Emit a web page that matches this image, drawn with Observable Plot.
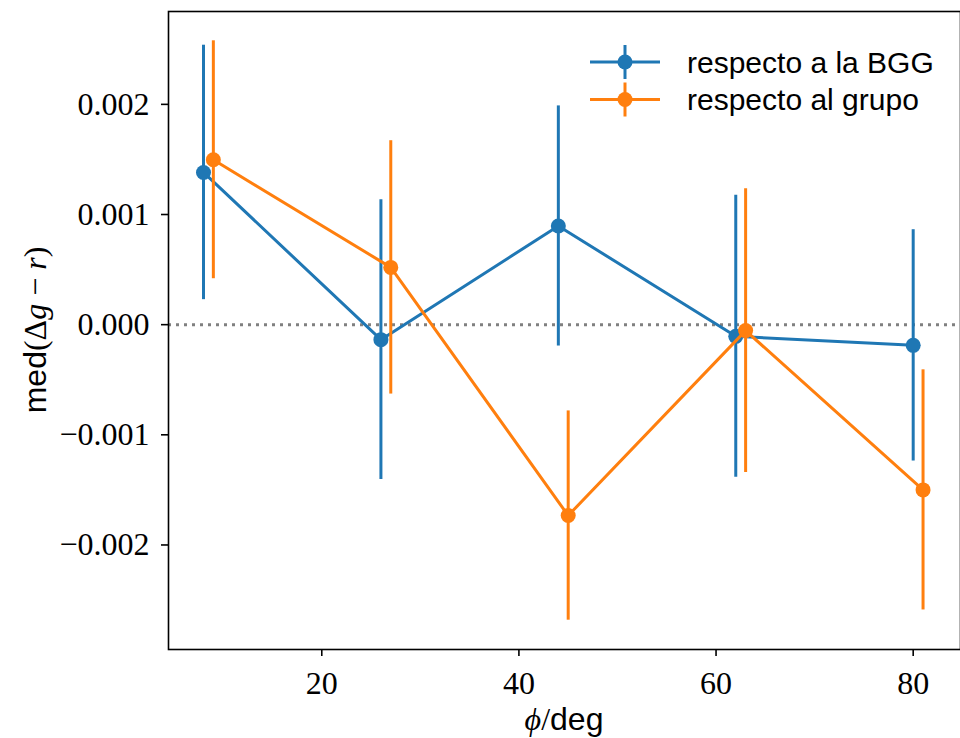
<!DOCTYPE html>
<html>
<head>
<meta charset="utf-8">
<script src="https://cdn.jsdelivr.net/npm/d3@7"></script>
<script src="https://cdn.jsdelivr.net/npm/@observablehq/plot@0.6"></script>
<style>
  html, body { margin: 0; padding: 0; background: #fff; }
  #chart svg { display: block; }
</style>
</head>
<body>
<div id="chart"></div>
<script>
const seriesNames = ["respecto a la BGG", "respecto al grupo"];
const seriesColors = ["#1f77b4", "#ff7f0e"];
const phiBGG = [8, 26, 44, 62, 80];
const medBGG = [0.001382, -0.000136, 0.000896, -0.000106, -0.000188];
const errBGG = [0.001155, 0.00127, 0.00109, 0.00128, 0.00105];
const phiGrupo = [9, 27, 45, 63, 81];
const medGrupo = [0.001497, 0.00052, -0.001733, -0.000054, -0.0015];
const errGrupo = [0.00108, 0.00115, 0.00095, 0.001288, 0.00109];
const xTicks = [20, 40, 60, 80];
const yTicks = [-0.002, -0.001, 0, 0.001, 0.002];

const rows = [
  ...phiBGG.map((p, i) => ({series: seriesNames[0], phi: p, med: medBGG[i], err: errBGG[i]})),
  ...phiGrupo.map((p, i) => ({series: seriesNames[1], phi: p, med: medGrupo[i], err: errGrupo[i]}))
];

const W = 960, H = 738, mL = 168, mT = 11, mB = 89, mR = 0;
const serif = "'Liberation Serif', 'DejaVu Serif', serif";
const sans = "'Liberation Sans', 'DejaVu Sans', sans-serif";

const marks = [
  Plot.ruleY([0], {stroke: "#808080", strokeWidth: 3, strokeDasharray: "3,5"})
];
for (let s = 0; s < seriesNames.length; s++) {
  const d = rows.filter(r => r.series === seriesNames[s]);
  marks.push(
    Plot.ruleX(d, {x: "phi", y1: r => r.med - r.err, y2: r => r.med + r.err, stroke: seriesColors[s], strokeWidth: 3}),
    Plot.line(d, {x: "phi", y: "med", stroke: seriesColors[s], strokeWidth: 3}),
    Plot.dot(d, {x: "phi", y: "med", fill: seriesColors[s], r: 7.5, stroke: "none"})
  );
}
marks.push(
  Plot.axisX({ticks: xTicks, tickSize: 7, tickPadding: 15, tickFormat: d3.format("d"), label: null,
    fontSize: 32, fontFamily: serif, strokeWidth: 1.6}),
  Plot.axisY({ticks: yTicks, tickSize: 7, tickPadding: 12, tickFormat: d3.format(".3f"), label: null,
    fontSize: 32, fontFamily: serif, strokeWidth: 1.6}),
  Plot.frame({stroke: "#000", strokeWidth: 1.6})
);

const svg = Plot.plot({
  width: W, height: H,
  marginLeft: mL, marginTop: mT, marginBottom: mB, marginRight: mR,
  x: {domain: [4.45, 84.8]},
  y: {domain: [-0.002949, 0.002843]},
  style: {background: "#fff", color: "#000", overflow: "visible"},
  marks
});

const root = d3.select(svg);
const fs = 32;

// x label: ϕ/deg
const xl = root.append("text")
  .attr("x", (mL + W - mR) / 2).attr("y", 730)
  .attr("text-anchor", "middle").attr("font-size", fs).attr("fill", "#000");
xl.append("tspan").attr("font-family", serif).attr("font-style", "italic").text("ϕ");
xl.append("tspan").attr("font-family", serif).text("/");
xl.append("tspan").attr("font-family", sans).text("deg");

// y label: med(Δg − r)
const yl = root.append("text")
  .attr("transform", `translate(46,${(mT + H - mB) / 2}) rotate(-90)`)
  .attr("text-anchor", "middle").attr("font-size", fs).attr("fill", "#000");
yl.append("tspan").attr("font-family", sans).text("med");
yl.append("tspan").attr("font-family", serif).text("(Δ");
yl.append("tspan").attr("font-family", serif).attr("font-style", "italic").text("g");
yl.append("tspan").attr("font-family", serif).text(" − ");
yl.append("tspan").attr("font-family", serif).attr("font-style", "italic").text("r");
yl.append("tspan").attr("font-family", serif).text(")");

// legend
const lg = root.append("g").attr("class", "legend");
seriesNames.forEach((name, i) => {
  const cy = 62 + i * 37.5;
  const g = lg.append("g").attr("transform", `translate(0,${cy})`);
  g.append("line").attr("x1", 590).attr("x2", 660).attr("y1", 0).attr("y2", 0)
    .attr("stroke", seriesColors[i]).attr("stroke-width", 3);
  g.append("line").attr("x1", 625).attr("x2", 625).attr("y1", -17).attr("y2", 17)
    .attr("stroke", seriesColors[i]).attr("stroke-width", 3);
  g.append("circle").attr("cx", 625).attr("cy", 0).attr("r", 7.5).attr("fill", seriesColors[i]);
  g.append("text").attr("x", 687).attr("y", 0).attr("dy", "0.35em")
    .attr("text-anchor", "start")
    .attr("font-family", sans).attr("font-size", 30).attr("fill", "#000").text(name);
});

document.getElementById("chart").appendChild(svg);
</script>
</body>
</html>
